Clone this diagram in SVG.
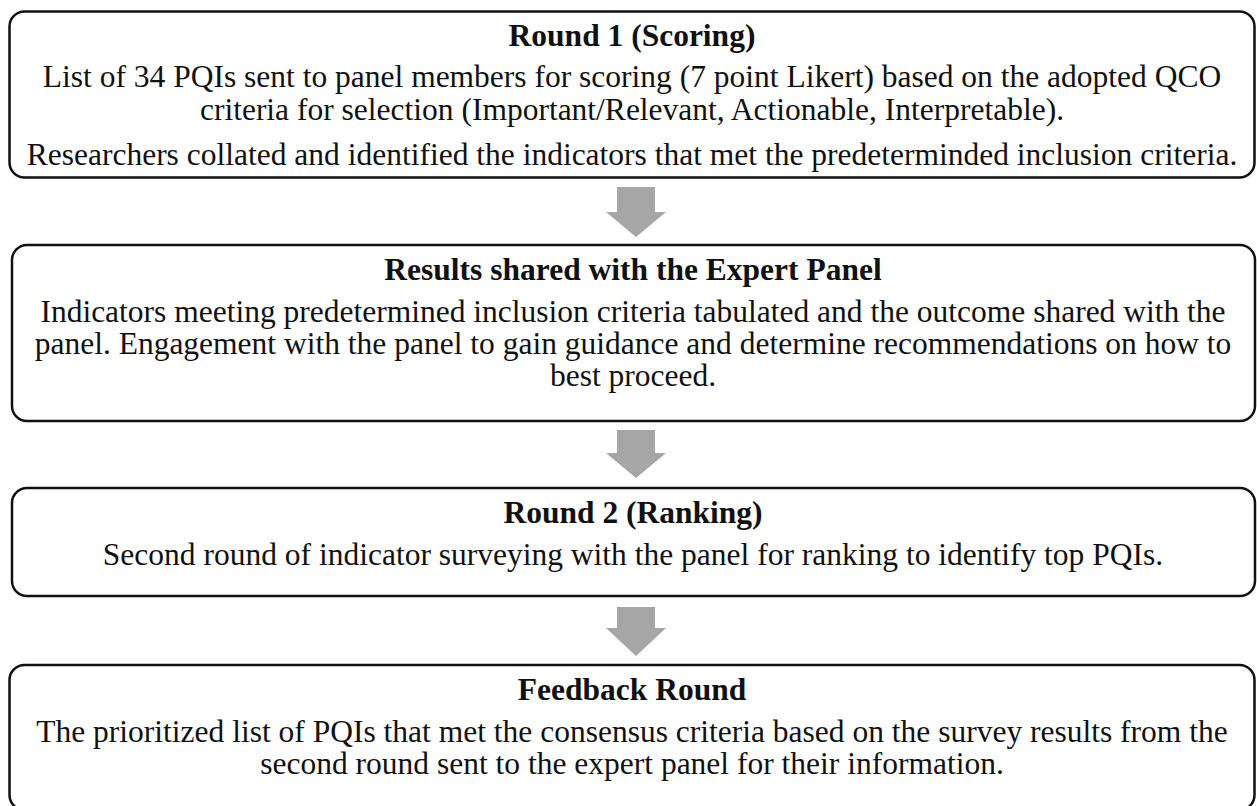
<svg xmlns="http://www.w3.org/2000/svg" width="1257" height="806" viewBox="0 0 1257 806">
<style>
.box{fill:#fff;stroke:#111;stroke-width:2.5}
.t{font-family:"Liberation Serif","Times New Roman",serif;font-size:31.5px;fill:#111;text-anchor:middle}
.b{font-weight:bold}
.arr{fill:#a6a6a6}
</style>
<rect width="1257" height="806" fill="#fff"/>
<g id="node1">
<rect class="box" x="9.5" y="11.5" width="1245" height="166" rx="15"/>
<text class="t b" x="632" y="46">Round 1 (Scoring)</text>
<text class="t" x="632" y="87">List of 34 PQIs sent to panel members for scoring (7 point Likert) based on the adopted QCO</text>
<text class="t" x="632" y="120">criteria for selection (Important/Relevant, Actionable, Interpretable).</text>
<text class="t" x="632" y="165">Researchers collated and identified the indicators that met the predeterminded inclusion criteria.</text>
</g>
<g id="node2">
<rect class="box" x="12" y="245" width="1243" height="176" rx="15"/>
<text class="t b" x="633" y="280">Results shared with the Expert Panel</text>
<text class="t" x="633" y="322">Indicators meeting predetermined inclusion criteria tabulated and the outcome shared with the</text>
<text class="t" x="633" y="354">panel. Engagement with the panel to gain guidance and determine recommendations on how to</text>
<text class="t" x="633" y="386">best proceed.</text>
</g>
<g id="node3">
<rect class="box" x="12" y="488" width="1243" height="108" rx="15"/>
<text class="t b" x="633" y="523">Round 2 (Ranking)</text>
<text class="t" x="633" y="565">Second round of indicator surveying with the panel for ranking to identify top PQIs.</text>
</g>
<g id="node4">
<rect class="box" x="9.5" y="665" width="1245" height="145" rx="15"/>
<text class="t b" x="632" y="700">Feedback Round</text>
<text class="t" x="632" y="742">The prioritized list of PQIs that met the consensus criteria based on the survey results from the</text>
<text class="t" x="632" y="774">second round sent to the expert panel for their information.</text>
</g>
<g id="connectors">
<polygon class="arr" points="617,187 655,187 655,212 666,212 636,237 606,212 617,212"/>
<polygon class="arr" points="617,430 655,430 655,453 666,453 636,478 606,453 617,453"/>
<polygon class="arr" points="617,607 655,607 655,628 666,628 636,656 606,628 617,628"/>
</g>
</svg>
